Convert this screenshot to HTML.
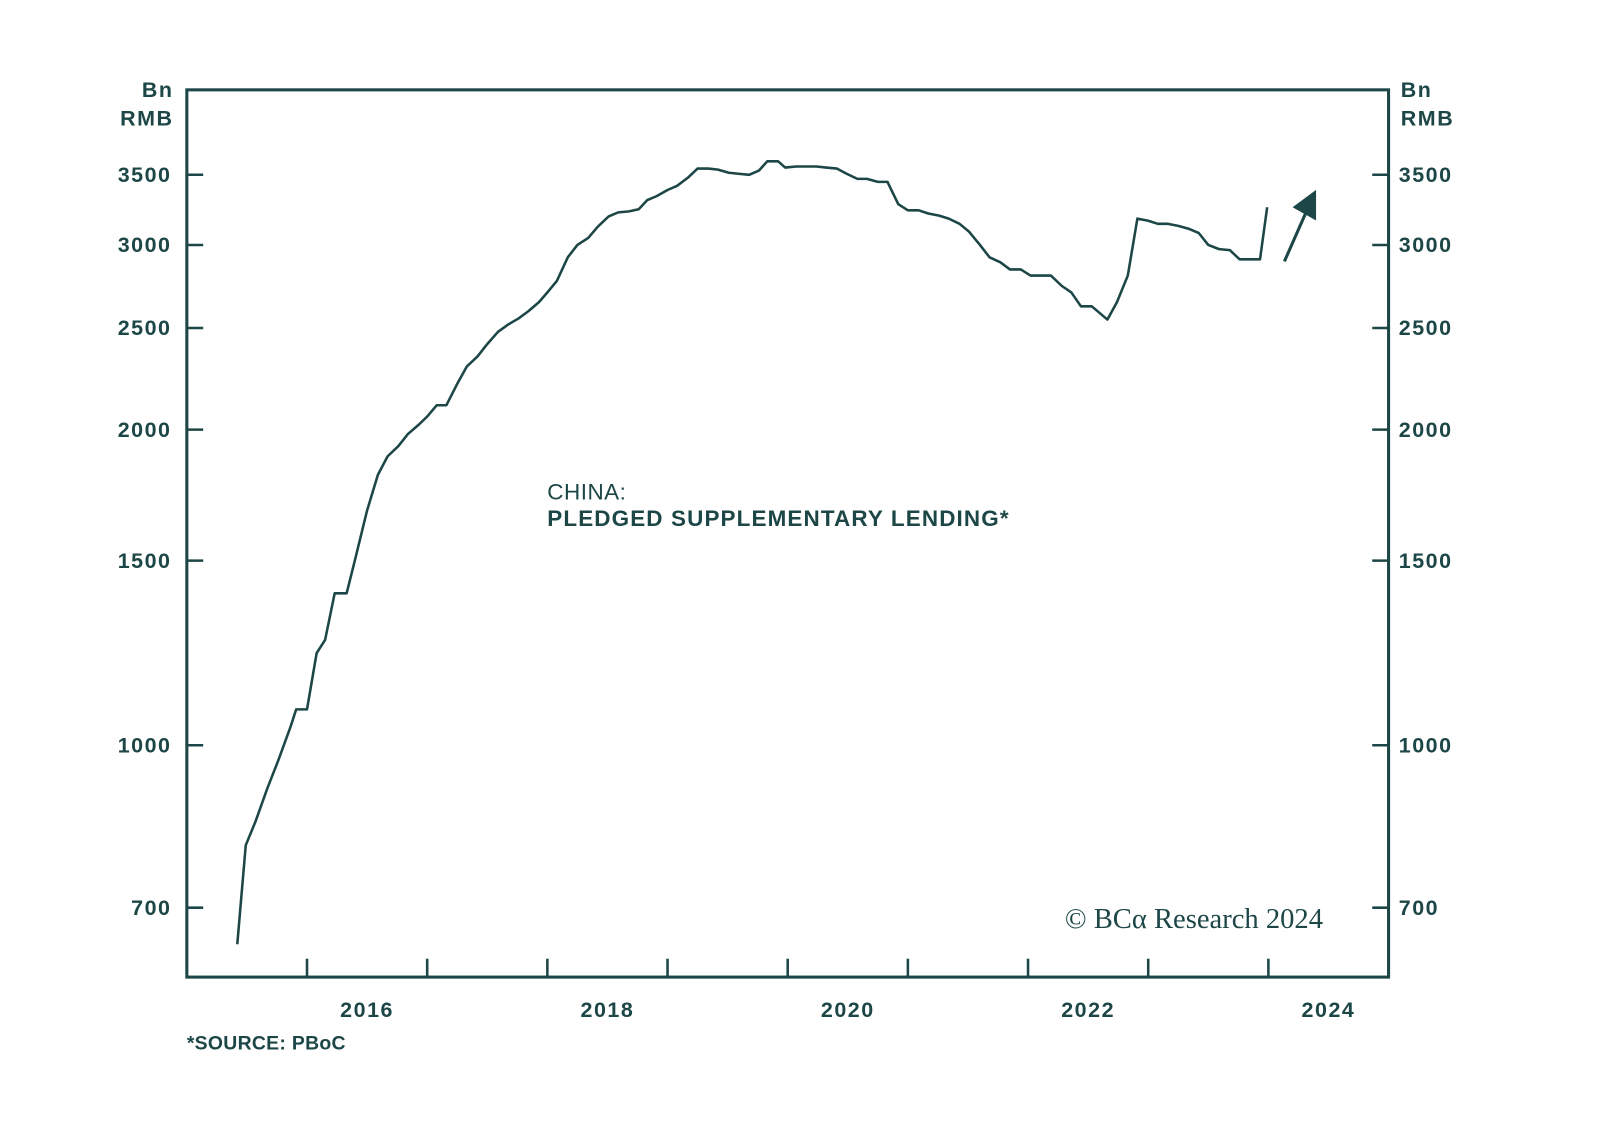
<!DOCTYPE html>
<html><head><meta charset="utf-8"><style>
html,body{margin:0;padding:0;background:#fff;}
svg{display:block;}
text{font-family:"Liberation Sans",sans-serif;fill:#1d4646;}
.t{font-size:21px;font-weight:bold;letter-spacing:1.5px;}
</style></head><body>
<svg width="1600" height="1133" viewBox="0 0 1600 1133"><g id="c" transform="scale(1.021)"></g></svg>
<script>
const dates=[2015.42,2015.49,2015.57,2015.67,2015.76,2015.86,2015.91,2016.00,2016.08,2016.15,2016.23,2016.33,2016.40,2016.50,2016.59,2016.67,2016.76,2016.84,2016.93,2017.00,2017.08,2017.16,2017.25,2017.33,2017.42,2017.50,2017.59,2017.67,2017.76,2017.84,2017.93,2018.01,2018.08,2018.17,2018.25,2018.34,2018.42,2018.51,2018.59,2018.68,2018.76,2018.83,2018.91,2019.00,2019.08,2019.17,2019.25,2019.34,2019.42,2019.51,2019.59,2019.68,2019.76,2019.83,2019.92,2019.98,2020.07,2020.15,2020.24,2020.32,2020.41,2020.49,2020.58,2020.66,2020.75,2020.83,2020.92,2021.00,2021.09,2021.17,2021.26,2021.34,2021.43,2021.51,2021.60,2021.68,2021.77,2021.85,2021.94,2022.02,2022.11,2022.19,2022.28,2022.36,2022.44,2022.53,2022.66,2022.74,2022.83,2022.91,2023.00,2023.08,2023.16,2023.25,2023.34,2023.42,2023.50,2023.59,2023.68,2023.76,2023.85,2023.93,2023.99];
const values=[646,803,845,910,967,1039,1082,1082,1224,1260,1396,1396,1504,1674,1811,1886,1929,1981,2022,2058,2110,2110,2211,2297,2349,2414,2479,2518,2553,2593,2646,2712,2773,2920,3000,3047,3123,3194,3223,3230,3245,3310,3340,3385,3416,3478,3548,3548,3540,3516,3508,3500,3532,3605,3605,3556,3564,3564,3564,3556,3548,3508,3469,3469,3446,3446,3281,3237,3237,3215,3200,3179,3143,3088,3000,2920,2888,2843,2843,2805,2805,2805,2742,2703,2622,2622,2547,2646,2805,3179,3164,3143,3143,3129,3108,3081,3000,2973,2966,2907,2907,2907,3259];
const yTicks=[700,1000,1500,2000,2500,3000,3500];
const yearLabels=[2016,2018,2020,2022,2024];
const yearTicks=[2016,2017,2018,2019,2020,2021,2022,2023,2024];

const NS="http://www.w3.org/2000/svg";
const svg=document.getElementById('c');
const L=183,R=1360,T=88,B=957;
const x=d=>L+(d-2015)/10*(R-L);
const y=v=>889-446*Math.log(v/700);
const C="#1d4646";
function el(tag,attrs,parent){const e=document.createElementNS(NS,tag);for(const k in attrs)e.setAttribute(k,attrs[k]);(parent||svg).appendChild(e);return e;}

const frame=el('rect',{x:L,y:T,width:R-L,height:B-T,fill:'none',stroke:C,'stroke-width':3});



yTicks.forEach(v=>{
  const yy=y(v);
  const t1=el('line',{x1:L,x2:L+16,y1:yy,y2:yy,stroke:C,'stroke-width':2.5});
  
  
  const t2=el('line',{x1:R-16,x2:R,y1:yy,y2:yy,stroke:C,'stroke-width':2.5});
  
  
  const a=el('text',{x:168,y:yy+7,'text-anchor':'end',class:'t'});a.textContent=v;
  
  
  const b=el('text',{x:1370,y:yy+7,class:'t'});b.textContent=v;
  
  
});
yearTicks.forEach(d=>{
  const t=el('line',{x1:x(d),x2:x(d),y1:B,y2:B-18,stroke:C,'stroke-width':2.5});
  
  
});
yearLabels.forEach(d=>{
  const t=el('text',{x:x(d+0.5),y:996,'text-anchor':'middle',class:'t'});t.textContent=d;
  
  
});
[['Bn',95],['RMB',123]].forEach(([s,yy])=>{
  const a=el('text',{x:170,y:yy,'text-anchor':'end',class:'t'});a.textContent=s;
  
  
  const b=el('text',{x:1372,y:yy,class:'t'});b.textContent=s;
  
  
});

const line=el('path',{d:dates.map((d,i)=>(i?'L':'M')+x(d).toFixed(1)+','+y(values[i]).toFixed(1)).join(''),fill:'none',stroke:C,'stroke-width':2.5,'stroke-linejoin':'round'});



const arrow=el('line',{x1:1258,y1:256,x2:1280,y2:206,stroke:C,'stroke-width':3});


const head=el('polygon',{points:'1289,186 1289,216 1266,203',fill:C});



const t1=el('text',{x:536,y:489,'font-size':22,'letter-spacing':0.5});t1.textContent='CHINA:';


const t2=el('text',{x:536,y:515,'font-size':22,'font-weight':'bold','letter-spacing':1.1});t2.textContent='PLEDGED SUPPLEMENTARY LENDING*';


const s=el('text',{x:183,y:1028,'font-size':19,'font-weight':'bold','letter-spacing':0.3});s.textContent='*SOURCE: PBoC';


const cp=el('text',{x:1043,y:909,'font-size':28,style:'font-family:"Liberation Serif",serif'});cp.textContent='© BCα Research 2024';


</script>
</body></html>
